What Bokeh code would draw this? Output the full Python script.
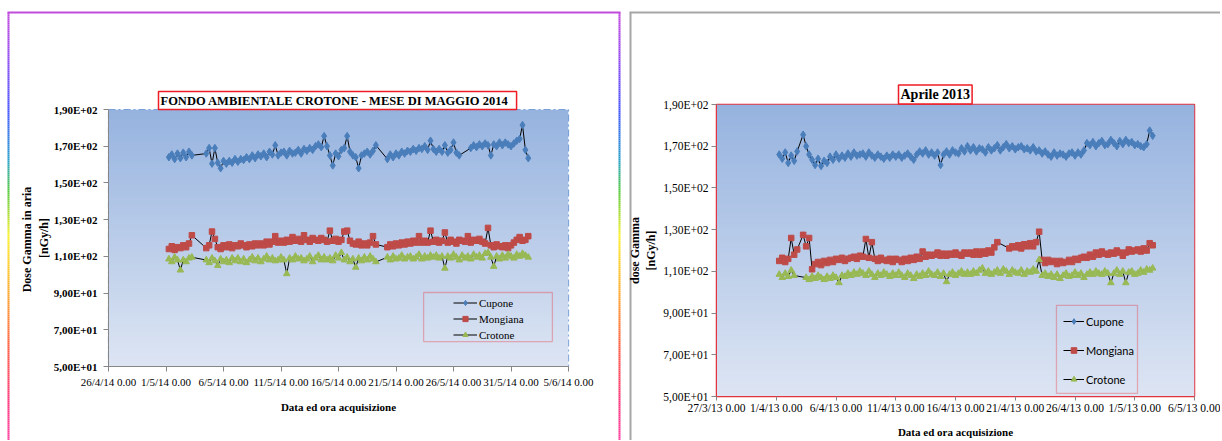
import numpy as np
from bokeh.plotting import figure
from bokeh.models import ColumnDataSource, FixedTicker, Legend, LegendItem, BoxAnnotation
from bokeh.embed import file_html
from bokeh.resources import INLINE

# ---------------- data ----------------
Y_TICKS = [50, 70, 90, 110, 130, 150, 170, 190]
Y_TICK_LABELS = ["5,00E+01", "7,00E+01", "9,00E+01", "1,10E+02", "1,30E+02",
                 "1,50E+02", "1,70E+02", "1,90E+02"]
X_TICKS = [0, 5, 10, 15, 20, 25, 30, 35, 40]          # days from axis start
LEFT_X_LABELS = ["26/4/14 0.00", "1/5/14 0.00", "6/5/14 0.00", "11/5/14 0.00", "16/5/14 0.00",
                 "21/5/14 0.00", "26/5/14 0.00", "31/5/14 0.00", "5/6/14 0.00"]
RIGHT_X_LABELS = ["27/3/13 0.00", "1/4/13 0.00", "6/4/13 0.00", "11/4/13 0.00", "16/4/13 0.00",
                  "21/4/13 0.00", "26/4/13 0.00", "1/5/13 0.00", "6/5/13 0.00"]
SERIES_NAMES = ["Cupone", "Mongiana", "Crotone"]
LEFT_TITLE = "FONDO AMBIENTALE  CROTONE  - MESE DI MAGGIO 2014"
RIGHT_TITLE = "Aprile 2013"
LEFT_Y_TITLE = "Dose Gamma  in aria\n[nGy/h]"
RIGHT_Y_TITLE = "dose Gamma\n[nGy/h]"
X_TITLE = "Data ed ora acquisizione"

SAMPLE_START = 5.25   # first sample, days after axis start
SAMPLE_STEP = 0.25    # one reading every 6 h (None = no reading)

# ---- Maggio 2014 (left panel) ----
left_cupone = [
    164, 165.5, 163, 166,  163.5, 166.5, 164, 167,  165, None, None, None,
    None, 166, 169, 160.5,  169, 161, 158, 162,  160.5, 162, 161, 163,
    161.5, 163, 162.5, 164,  163, 165, 163.5, 165.5,  164.5, 166, 164, 167,
    165.5, 170.5, 165, 166.5,  167, 165, 167.5, 166,  166.5, 168, 166, 168.5,
    167.5, 169, 168, 170,  171, 169.5, 175.5, 170,  165, 159.5, 166, 164.5,
    168, 169, 175.5, 167,  165, 164, 158, 165,  166, 167, 165.5, 167.5,
    170.5, None, None, None,  163, 165.5, 164, 166,  165, 167, 166, 167.5,
    167, 168.5, 167.5, 169,  168.5, 170, 168, 173,  168.5, 167, 168.5, 167,
    170.5, 166.5, 168, 172,  166.5, 165, None, None,  None, 169, 170.5, 169.5,
    171, 170, 171.5, 170.5,  165, 171, 170, 172,  170.5, 172, 171, 170,
    171.5, 173, 174, 181.5,  168, 163.5]
left_mongiana = [
    114, 115.5, 113.5, 115,  114.5, 116, 115, 117,  121.5, None, None, None,
    None, 114.5, 116, 123.5,  119.5, 115, 114, 116,  115, 116.5, 114.5, 116,
    115.5, 117, 116, 115,  116.5, 115.5, 117, 116,  117, 116, 118, 116.5,
    118, 121, 117.5, 118.5,  117.5, 119, 118, 120.5,  118.5, 119.5, 118, 121.5,
    119, 118, 120, 119,  118.5, 120, 119, 118,  124, 118.5, 119.5, 118,
    119, 123.5, 124, 118.5,  117, 116.5, 118, 116,  117, 116, 117.5, 121,
    116.5, None, None, None,  115, 116.5, 115.5, 117,  116, 117.5, 116.5, 118,
    117, 118.5, 117.5, 121,  117.5, 118.5, 117.5, 124,  118, 119, 117.5, 118.5,
    123, 117.5, 119, 118,  117, 119, 118.5, 118,  121, 117.5, 119, 118.5,
    119.5, 118, 117, 125.5,  116, 115, 116.5, 115.5,  115, 116, 114.5, 116,
    117.5, 119, 120.5, 118.5,  119, 121]
left_crotone = [
    108.5, 107, 109.5, 108,  102.5, 108, 107, 109,  109.5, None, None, None,
    None, 108, 106.5, 109,  107.5, 105, 108.5, 107,  108, 106.5, 109, 107.5,
    109, 107, 108.5, 106.5,  108, 109.5, 107.5, 109,  107, 108.5, 110, 108,
    109, 107.5, 108, 109.5,  108, 100.5, 109, 108,  110, 108.5, 109, 107.5,
    108.5, 110, 107, 109,  110.5, 108, 109.5, 108,  109, 107.5, 110.5, 109,
    112, 108, 109.5, 107,  108.5, 104, 109, 107.5,  109.5, 108, 110, 108.5,
    107, None, None, None,  109.5, 108, 110, 108.5,  109, 110.5, 108.5, 109.5,
    110, 108.5, 109.5, 111,  108.5, 110, 109, 110.5,  109.5, 110.5, 109, 110,
    103.5, 110, 109, 111,  109.5, 108, 110.5, 109,  110, 108.5, 111, 109.5,
    110.5, 109, 111.5, 112,  109.5, 104.5, 110, 108.5,  110.5, 109, 111, 110,
    109, 111, 110, 111.5,  110.5, 109.5]

# ---- Aprile 2013 (right panel) ----
right_cupone = [
    166, 164, 167, 162,  165.5, 163, 167.5, None,  175.5, 170, 166, 163.5,
    161, 164, 160.5, 163,  162, 165, 163.5, 166,  164, 165.5, 164.5, 166.5,
    165, 167, 165.5, 166,  166.5, 165, 167, 165.5,  164.5, 166, 165, 164,
    165.5, 164.5, 166, 165,  166, 164.5, 165.5, 166.5,  165, 163.5, 166, 167.5,
    166.5, 168, 166, 167,  165.5, 167, 161, 166,  167.5, 166, 168, 167,
    166.5, 169, 167.5, 170,  168, 169.5, 167.5, 169,  168.5, 167, 169.5, 168,
    169, 170.5, 168, 169.5,  171, 169, 170, 168.5,  169.5, 170, 168.5, 169,
    168, 169.5, 167.5, 168,  166.5, 167.5, 166, 165,  167, 165.5, 166.5, 166,
    165, 166.5, 167, 165.5,  167, 166, 168, 171.5,  170.5, 172, 170, 171.5,
    172.5, 170.5, 171, 173,  171.5, 170, 172.5, 171,  173, 171.5, 172, 170.5,
    171, 170, 169.5, 171,  177.5, 175]
right_mongiana = [
    115, 116.5, 114.5, 116,  126, 118, 120.5, None,  127.5, 122, 126, 111,
    113.5, 114.5, 113, 115,  114, 115.5, 114.5, 116,  115.5, 116.5, 115, 116,
    116.5, 117, 116, 117.5,  117, 125.5, 116.5, 124,  116, 115, 116.5, 115.5,
    115, 116, 114.5, 116,  115.5, 114.5, 116, 115,  116.5, 115.5, 117, 116,
    119.5, 117, 118, 117.5,  118, 119, 117.5, 118.5,  117.5, 118.5, 118, 119,
    118, 117.5, 119, 118.5,  119, 118, 119.5, 118,  119.5, 118.5, 120, 119,
    121.5, 124, None, None,  None, 121, 122, 121.5,  122.5, 121, 123, 122,
    123.5, 122, 124, 129,  115.5, 114, 115.5, 114.5,  115, 113.5, 115, 114,
    114.5, 115.5, 114.5, 116,  115.5, 116.5, 117, 116.5,  118, 117, 119, 118,
    119.5, 118.5, 118, 119,  118.5, 120, 119, 117.5,  119, 120.5, 119.5, 120,
    120.5, 119.5, 121, 120,  123.5, 122.5]
right_crotone = [
    108.5, 107, 109, 107.5,  110.5, 108, None, None,  None, 107, 106, 107.5,
    106.5, 108, 107, 106,  107.5, 106.5, 108, 107,  104.5, 108, 107.5, 109,
    108, 109.5, 108.5, 110,  109, 108, 110, 108.5,  107, 109, 108, 109.5,
    108.5, 107.5, 109, 108,  109.5, 108, 107, 109,  108, 106.5, 108.5, 107.5,
    109, 108, 110, 108.5,  108, 109.5, 107.5, 109,  105, 108.5, 109.5, 108,
    109, 110, 108.5, 109.5,  108.5, 110, 109, 110.5,  111.5, 109, 110, 108.5,
    109.5, 110.5, 109, 111,  110, 108.5, 110.5, 109.5,  109, 110.5, 108.5, 110,
    109.5, 111, 110, 115.5,  108, 109, 107.5, 108.5,  107, 108.5, 106.5, 108,
    109, 107.5, 108, 109.5,  108, 109, 107, 108.5,  109.5, 108.5, 110, 109,
    108.5, 110, 109, 104.5,  109, 110.5, 108.5, 110,  104.5, 109.5, 110, 108.5,
    109, 110.5, 109.5, 111,  110.5, 111.5]

# ---------------- styling ----------------
SERIF = '"Liberation Serif"'
COLORS = ["#4a7ebb", "#be4b48", "#98b954"]
MARKERS = ["diamond", "square", "triangle"]
SIZES = [7.5, 5.5, 6.5]
GRAD_TOP = (150, 179, 223)
GRAD_BOTTOM = (221, 229, 243)
EDGE_STOPS = [(12, (194, 68, 221)), (60, (140, 70, 240)), (110, (64, 80, 255)),
              (160, (34, 160, 200)), (190, (80, 200, 60)), (235, (250, 240, 40)),
              (290, (255, 170, 40)), (345, (255, 90, 60)), (400, (255, 50, 120)),
              (440, (255, 60, 160))]


def series_source(values):
    t = [SAMPLE_START + SAMPLE_STEP * i for i in range(len(values))]
    pts = [(ti, v) for ti, v in zip(t, values) if v is not None]
    return ColumnDataSource(data=dict(t=[a for a, _ in pts], v=[b for _, b in pts]))


def gradient_image(top, bottom, n=96):
    img = np.zeros((n, 1), dtype=np.uint32)
    view = img.view(dtype=np.uint8).reshape((n, 1, 4))
    for i in range(n):
        f = i / (n - 1)
        for c in range(3):
            view[i, 0, c] = int(round(bottom[c] + (top[c] - bottom[c]) * f))
        view[i, 0, 3] = 255
    return img


def edge_color(y):
    for (y0, c0), (y1, c1) in zip(EDGE_STOPS[:-1], EDGE_STOPS[1:]):
        if y0 <= y <= y1:
            f = (y - y0) / (y1 - y0)
            return "#%02x%02x%02x" % tuple(int(round(c0[k] + (c1[k] - c0[k]) * f)) for k in range(3))
    return "#%02x%02x%02x" % EDGE_STOPS[-1][1]


# ---------------- page background: the two panel frames ----------------
bg = figure(width=1220, height=440, x_range=(0, 1220), y_range=(440, 0),
            output_backend="svg", toolbar_location=None, min_border=0)
bg.styles = {"position": "absolute", "left": "0px", "top": "0px"}
bg.axis.visible = False
bg.grid.visible = False
bg.outline_line_color = None
bg.background_fill_color = "white"
bg.border_fill_color = "white"
edge_y = np.arange(12, 440, 2)
edge_cols = [edge_color(y + 1) for y in edge_y]
for ex in (8, 619):
    bg.segment(x0=[ex] * len(edge_y), y0=edge_y, x1=[ex] * len(edge_y), y1=edge_y + 2,
               line_color=edge_cols, line_width=2)
bg.segment(x0=[7], y0=[12], x1=[620], y1=[12], line_color="#c04cdc", line_width=2)
bg.segment(x0=[629, 630], y0=[12, 12], x1=[1220, 630], y1=[12, 440],
           line_color="#a6a6a6", line_width=2)


def build(left, width, height, fl, ft, fw, fh, x_labels, data, bold_y, tick_size,
          title, title_offset, title_size, y_title, legend_font):
    p = figure(width=width, height=height,
               x_range=(X_TICKS[0], X_TICKS[-1]), y_range=(Y_TICKS[0], Y_TICKS[-1]),
               output_backend="svg", toolbar_location=None,
               min_border_left=fl, min_border_top=ft,
               min_border_right=width - fl - fw, min_border_bottom=height - ft - fh)
    p.styles = {"position": "absolute", "left": f"{left}px", "top": "0px"}
    p.grid.visible = False
    p.border_fill_alpha = 0
    p.background_fill_alpha = 0
    p.image_rgba(image=[gradient_image(GRAD_TOP, GRAD_BOTTOM)], x=X_TICKS[0], y=Y_TICKS[0],
                 dw=X_TICKS[-1] - X_TICKS[0], dh=Y_TICKS[-1] - Y_TICKS[0])

    p.xaxis.ticker = FixedTicker(ticks=X_TICKS)
    p.xaxis.major_label_overrides = dict(zip(X_TICKS, x_labels))
    p.yaxis.ticker = FixedTicker(ticks=Y_TICKS)
    p.yaxis.major_label_overrides = dict(zip(Y_TICKS, Y_TICK_LABELS))
    for ax in (p.xaxis[0], p.yaxis[0]):
        ax.axis_line_color = "#868686"
        ax.major_tick_line_color = "#868686"
        ax.minor_tick_line_color = None
        ax.major_tick_in = 0
        ax.major_tick_out = 5
        ax.major_label_text_font = SERIF
        ax.major_label_text_font_size = tick_size
        ax.major_label_text_color = "black"
        ax.axis_label_text_font = SERIF
        ax.axis_label_text_font_style = "bold"
        ax.axis_label_text_color = "black"
    p.yaxis.major_label_text_font_style = "bold" if bold_y else "normal"
    p.xaxis.axis_label = X_TITLE
    p.xaxis.axis_label_text_font_size = "11px"
    p.yaxis.axis_label = y_title
    p.yaxis.axis_label_text_font_size = "12px"

    p.title.text = title
    p.title.align = "left"
    p.title.offset = title_offset
    p.title.standoff = 0
    p.title.vertical_align = "bottom"
    p.title.text_font = SERIF
    p.title.text_font_size = title_size
    p.title.text_font_style = "bold"
    p.title.text_color = "black"
    p.title.border_line_color = "#ee1c25"
    p.title.border_line_width = 1.5
    p.title.background_fill_color = "white"
    p.title.padding = 2

    items = []
    for name, vals, col, mk, sz in zip(SERIES_NAMES, data, COLORS, MARKERS, SIZES):
        src = series_source(vals)
        lr = p.line("t", "v", source=src, line_color="black", line_width=1)
        sr = p.scatter("t", "v", source=src, marker=mk, size=sz, fill_color=col, line_color=col)
        items.append(LegendItem(label=name, renderers=[lr, sr]))
    leg = Legend(items=items, orientation="vertical", padding=0, margin=0,
                 border_line_color=None, background_fill_alpha=0,
                 label_text_font=legend_font, label_text_font_size="11px",
                 label_text_color="black", label_standoff=2)
    p.add_layout(leg)
    return p, leg


# ---------------- left panel (canvas at page x=0) ----------------
p1, leg1 = build(0, 620, 440, 108, 109, 460, 257, LEFT_X_LABELS,
                 [left_cupone, left_mongiana, left_crotone], True, "11px",
                 LEFT_TITLE, 50, "12.5px", LEFT_Y_TITLE, SERIF)
p1.outline_line_color = "#6f9bd6"
p1.outline_line_dash = "7 3 2 3"
p1.outline_line_width = 1.2
p1.xaxis.major_label_standoff = 4
p1.xaxis.axis_label_standoff = 10
p1.yaxis.major_label_standoff = 6
p1.yaxis.axis_label_standoff = 0
leg1.location = (345, 25)
leg1.glyph_width = 24
leg1.glyph_height = 13
leg1.label_height = 13
leg1.spacing = 3
p1.add_layout(BoxAnnotation(left=27.4, right=38.6, bottom=63.6, top=90.3,
                            fill_alpha=0, line_color="#ee1c25", line_width=1.3))

# ---------------- right panel (canvas at page x=620) ----------------
p2, leg2 = build(620, 600, 440, 96, 104, 478, 295, RIGHT_X_LABELS,
                 [right_cupone, right_mongiana, right_crotone], False, "11.5px",
                 RIGHT_TITLE, 182, "14px", RIGHT_Y_TITLE, "Lato")
p2.outline_line_color = "#e2343f"
p2.outline_line_width = 1.5
p2.xaxis.axis_line_color = "#e2343f"
p2.yaxis.axis_line_color = "#e2343f"
p2.xaxis.major_tick_out = 4
p2.xaxis.major_label_standoff = 1
p2.xaxis.axis_label_standoff = 9
p2.yaxis.major_label_standoff = 3
p2.yaxis.axis_label_standoff = 2
p2.title.standoff = 1
leg2.location = (347, 10)
leg2.glyph_width = 21
leg2.glyph_height = 14
leg2.label_height = 14
leg2.spacing = 15
p2.add_layout(BoxAnnotation(left=28.45, right=35.23, bottom=51.5, top=93.7,
                            fill_alpha=0, line_color="#ee1c25", line_width=1.3))

open("out.html", "w").write(file_html([bg, p1, p2], INLINE))
